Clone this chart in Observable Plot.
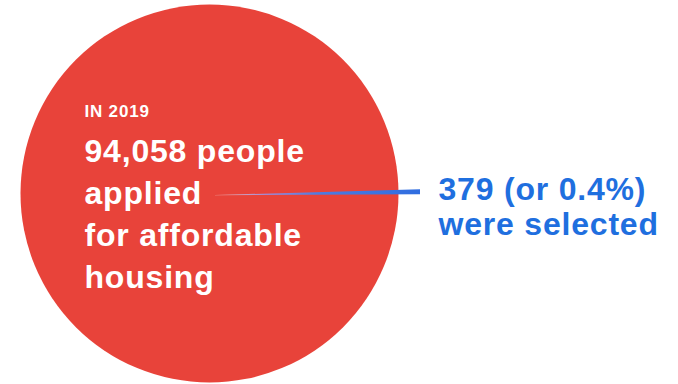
<!DOCTYPE html>
<html>
<head>
<meta charset="utf-8">
<script src="https://cdn.jsdelivr.net/npm/d3@7"></script>
<script src="https://cdn.jsdelivr.net/npm/@observablehq/plot@0.6"></script>
<style>
  html, body { margin: 0; padding: 0; background: #ffffff; }
</style>
</head>
<body>
<div id="chart"></div>
<script>
// ---- data ----
const year = "2019";
const applied = 94058;
const selected = 379;
const selectedShare = "0.4%";
const appliedWords = ["people", "applied", "for affordable", "housing"];
const selectedWords = ["were selected"];

// ---- layout (not data) ----
const W = 678, H = 384;
const cx = 209, cy = 193, R = 189;
const textX = 84;
const labelX = 438;

const appliedLabel = [`${d3.format(",")(applied)} ${appliedWords[0]}`, ...appliedWords.slice(1)].join("\n");
const selectedLabel = [`${selected} (or ${selectedShare})`, ...selectedWords].join("\n");

const leader = [
  {x: 215, y1: 195, y2: 195.3},
  {x: 420, y1: 189.3, y2: 194.2}
];

const red = "#e8433a";
const blue = "#1f6fdf";
const font = "Liberation Sans, Arial, Helvetica, sans-serif";

const chart = Plot.plot({
  width: W,
  height: H,
  margin: 0,
  style: {background: "#ffffff", letterSpacing: "0.8px", fontFamily: font},
  x: {domain: [0, W], range: [0, W], axis: null},
  y: {domain: [0, H], range: [0, H], axis: null},
  r: {type: "sqrt", domain: [0, applied], range: [0, R]},
  marks: [
    Plot.dot([applied], {x: cx, y: cy, r: d => d, fill: red, stroke: "none"}),
    Plot.area(leader, {x1: "x", y1: "y1", y2: "y2", fill: "url(#leaderGrad)", curve: "linear"}),
    Plot.text([`IN ${year}`], {
      x: textX, y: 116, text: d => d, textAnchor: "start", lineAnchor: "bottom",
      fill: "#ffffff", fontSize: 17, fontWeight: "bold", fontFamily: font
    }),
    Plot.text([appliedLabel], {
      x: textX, y: 287, text: d => d, textAnchor: "start", lineAnchor: "bottom",
      lineHeight: 42 / 32, fill: "#ffffff", fontSize: 32, fontWeight: "bold", fontFamily: font
    }),
    Plot.text([selectedLabel], {
      x: labelX, y: 234, text: d => d, textAnchor: "start", lineAnchor: "bottom",
      lineHeight: 35 / 32, fill: blue, fontSize: 32, fontWeight: "bold", fontFamily: font
    })
  ]
});

// gradient for the leader line
const svg = d3.select(chart);
const defs = svg.insert("defs", ":first-child");
const g = defs.append("linearGradient")
  .attr("id", "leaderGrad")
  .attr("gradientUnits", "userSpaceOnUse")
  .attr("x1", leader[0].x).attr("x2", leader[1].x)
  .attr("y1", 0).attr("y2", 0);
g.append("stop").attr("offset", "0").attr("stop-color", "#f7c9c4").attr("stop-opacity", 0.8);
g.append("stop").attr("offset", "0.25").attr("stop-color", "#a08ad4");
g.append("stop").attr("offset", "0.5").attr("stop-color", "#4f7ce0");
g.append("stop").attr("offset", "1").attr("stop-color", "#2f6de0");

document.getElementById("chart").appendChild(chart);
</script>
</body>
</html>
